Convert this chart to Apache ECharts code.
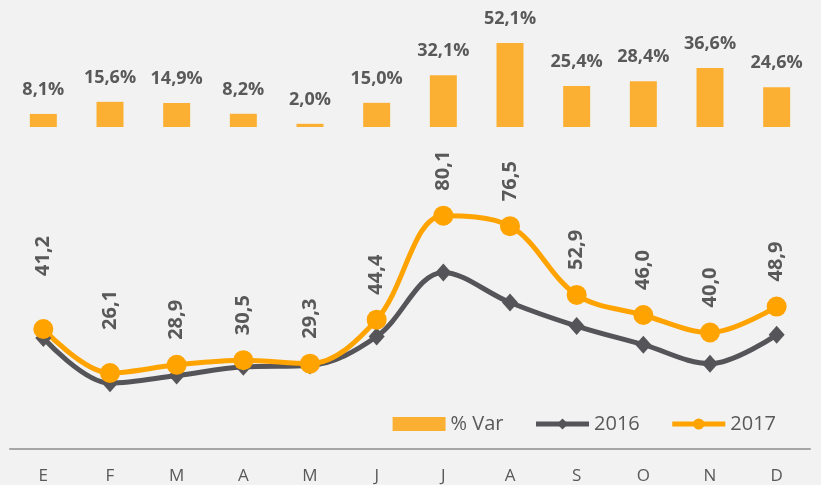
<!DOCTYPE html>
<html>
<head>
<meta charset="utf-8">
<script src="https://cdn.jsdelivr.net/npm/echarts@6/dist/echarts.min.js"></script>
<style>
  html, body { margin: 0; padding: 0; background: #f2f2f2; }
  #chart { width: 821px; height: 485px; }
</style>
</head>
<body>
<div id="chart"></div>
<script>
// meses
const months = ["E", "F", "M", "A", "M", "J", "J", "A", "S", "O", "N", "D"];
// variación porcentual
const varPct = [8.1, 15.6, 14.9, 8.2, 2.0, 15.0, 32.1, 52.1, 25.4, 28.4, 36.6, 24.6];
// valores 2016 (sin etiqueta)
const y2016 = [38.1, 22.6, 25.2, 28.2, 28.7, 38.6, 60.6, 50.3, 42.2, 35.8, 29.3, 39.2];
// valores 2017
const y2017 = [41.2, 26.1, 28.9, 30.5, 29.3, 44.4, 80.1, 76.5, 52.9, 46.0, 40.0, 48.9];

const grey = "#595959";
const fmt = v => v.toFixed(1).replace(".", ",");

// las etiquetas de E y F están desplazadas más arriba
const extraDist = { 0: 43, 1: 33 };

const chart = echarts.init(document.getElementById("chart"));
chart.setOption({
  backgroundColor: "#f2f2f2",
  textStyle: { fontFamily: "Open Sans" },
  animation: false,
  legend: {
    right: 40,
    top: 409,
    itemWidth: 53,
    itemHeight: 14,
    itemGap: 30,
    textStyle: { fontSize: 20, color: grey, fontFamily: "Open Sans" },
    data: [
      { name: "% Var", icon: "rect" },
      { name: "2016", lineStyle: { width: 5 } },
      { name: "2017", lineStyle: { width: 5 } }
    ]
  },
  grid: [
    { left: 10, right: 11, top: 30.3, bottom: 358 },
    { left: 10, right: 11, top: 157.7, bottom: 36 }
  ],
  xAxis: [
    { type: "category", gridIndex: 0, data: months, show: false },
    {
      type: "category",
      gridIndex: 1,
      data: months,
      axisLine: { lineStyle: { color: "#a6a6a6", width: 2 } },
      axisTick: { alignWithLabel: true, length: 5, lineStyle: { color: "#a6a6a6", width: 2 } },
      axisLabel: { color: grey, fontSize: 17, margin: 19 }
    }
  ],
  yAxis: [
    { type: "value", gridIndex: 0, min: 0, max: 60, show: false },
    { type: "value", gridIndex: 1, min: 0, max: 100, show: false }
  ],
  series: [
    {
      name: "% Var",
      type: "bar",
      xAxisIndex: 0,
      yAxisIndex: 0,
      data: varPct,
      barWidth: 27,
      itemStyle: { color: "#fbb034" },
      label: {
        show: true,
        position: "top",
        distance: 15,
        color: grey,
        fontSize: 18,
        fontWeight: "bold",
        formatter: p => fmt(p.value) + "%"
      }
    },
    {
      name: "2016",
      type: "line",
      xAxisIndex: 1,
      yAxisIndex: 1,
      data: y2016,
      smooth: 0.35,
      symbol: "diamond",
      symbolSize: [16, 18],
      color: "#555559",
      lineStyle: { width: 5, color: "#555559" },
      itemStyle: { color: "#555559" }
    },
    {
      name: "2017",
      type: "line",
      xAxisIndex: 1,
      yAxisIndex: 1,
      data: y2017.map((v, i) => extraDist[i] ? { value: v, label: { distance: extraDist[i] } } : v),
      smooth: 0.35,
      symbol: "circle",
      symbolSize: 20,
      color: "#ffa300",
      lineStyle: { width: 5, color: "#ffa300" },
      itemStyle: { color: "#ffa300" },
      label: {
        show: true,
        position: "top",
        rotate: 90,
        align: "left",
        verticalAlign: "middle",
        distance: 15,
        color: grey,
        fontSize: 20,
        fontWeight: "bold",
        formatter: p => fmt(p.value)
      }
    }
  ]
});
</script>
</body>
</html>
